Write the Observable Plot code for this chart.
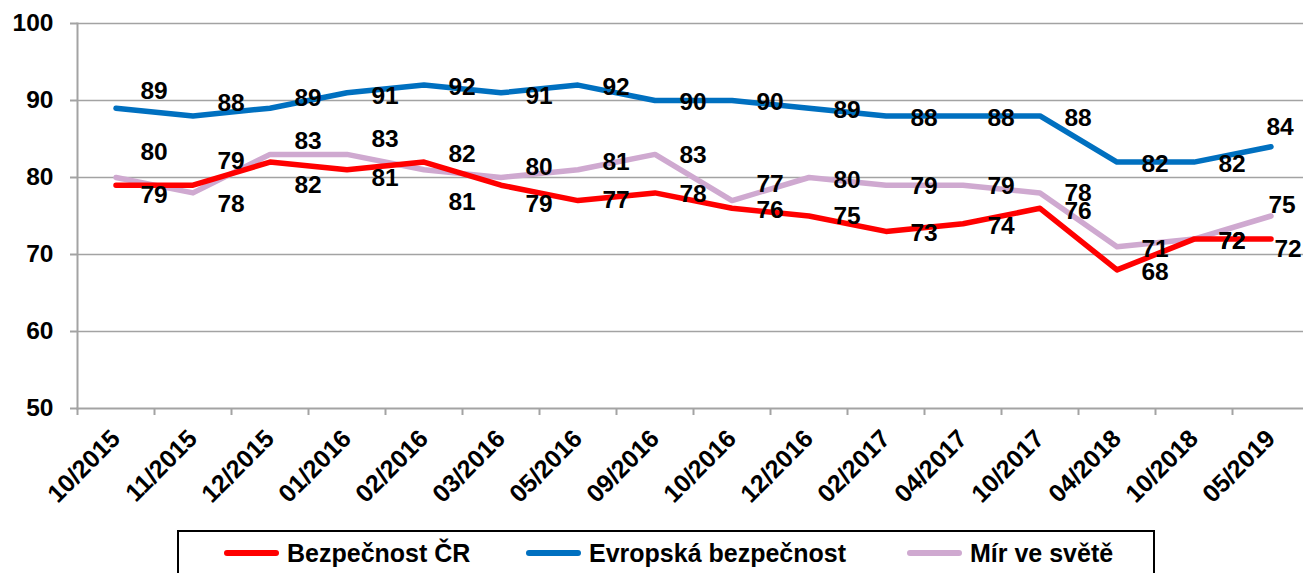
<!DOCTYPE html>
<html><head><meta charset="utf-8">
<script src="https://cdn.jsdelivr.net/npm/d3@7"></script>
<script src="https://cdn.jsdelivr.net/npm/@observablehq/plot@0.6"></script>
<style>
body{margin:0;background:#fff;font-family:"Liberation Sans",Arial,sans-serif;}
#wrap{position:relative;width:1303px;height:573px;overflow:hidden;}
#legend{position:absolute;left:177px;top:530px;width:978px;height:60px;border:2px solid #000;box-sizing:border-box;}
.item{position:absolute;top:7px;height:28px;display:flex;align-items:center;font-weight:bold;font-size:25px;color:#000;white-space:nowrap;}
.sw{display:inline-block;width:55px;height:6px;border-radius:3px;margin-right:8px;}
</style></head><body>
<div id="wrap"><div id="chart"></div><div id="legend"></div></div>
<script>
// ---- data ----
const categories = ["10/2015","11/2015","12/2015","01/2016","02/2016","03/2016","05/2016","09/2016",
  "10/2016","12/2016","02/2017","04/2017","10/2017","04/2018","10/2018","05/2019"];
const seriesNames = ["Bezpečnost ČR","Evropská bezpečnost","Mír ve světě"];
const bezpecnostCR       = [79,79,82,81,82,79,77,78,76,75,73,74,76,68,72,72];
const evropskaBezpecnost = [89,88,89,91,92,91,92,90,90,89,88,88,88,82,82,84];
const mirVeSvete         = [80,78,83,83,81,80,81,83,77,80,79,79,78,71,72,75];
const yTicks = [50,60,70,80,90,100];

// ---- styling / layout ----
const seriesColors = ["#ff0000","#0070c0","#cfa9d0"];
const labelDy = {
  "Bezpečnost ČR":       [10,-24,23,8,-8,19,0,1,2,0,2,2,3,2,2,10],
  "Evropská bezpečnost": [-17,-13,-10,3,2,3,2,2,2,2,2,2,2,2,2,-20],
  "Mír ve světě":        [-25,11,-13,-15,32,-10,-8,1,-16,3,1,1,0,2,2,-11]
};
const labelDxLast = {"Bezpečnost ČR":17,"Evropská bezpečnost":9,"Mír ve světě":11};

const seriesValues = [bezpecnostCR, evropskaBezpecnost, mirVeSvete];
const rows = seriesNames.flatMap((s, si) => seriesValues[si].map((v, i) => ({series: s, cat: categories[i], value: v, i})));

const grey = "#a3a3a3";
const font = {fontSize: 24.5, fontWeight: "bold", fill: "#000"};

const labelMarks = seriesNames.flatMap(s => rows.filter(r => r.series === s).map(r =>
  Plot.text([r], {x: "cat", y: "value", text: d => String(d.value),
    dx: r.i === categories.length - 1 ? labelDxLast[s] : 38, dy: labelDy[s][r.i], ...font})));

const drawOrder = ["Mír ve světě","Bezpečnost ČR","Evropská bezpečnost"];

const chart = Plot.plot({
  width: 1303, height: 528,
  marginLeft: 77, marginRight: -6, marginTop: 23, marginBottom: 120,
  style: {fontFamily: "'Liberation Sans', Arial, sans-serif", background: "#fff", overflow: "visible"},
  x: {type: "band", domain: categories, padding: 0, label: null},
  y: {domain: [50, 100], label: null},
  color: {domain: seriesNames, range: seriesColors},
  marks: [
    Plot.gridY(yTicks.slice(1), {stroke: grey, strokeOpacity: 1, strokeWidth: 1.5}),
    Plot.frame({anchor: "left", stroke: grey, strokeWidth: 2}),
    Plot.frame({anchor: "bottom", stroke: grey, strokeWidth: 2}),
    Plot.axisY(yTicks, {label: null, tickSize: 7, tickPadding: 17, stroke: grey, strokeWidth: 2, ...font}),
    Plot.axisX({label: null, tickSize: 7, tickFormat: () => "", dx: -38.5, stroke: grey, strokeWidth: 2}),
    Plot.axisX({label: null, tickSize: 0, tickPadding: 26, tickRotate: -45, ...font, fontSize: 25}),
    ...drawOrder.map(s => Plot.line(rows.filter(r => r.series === s),
      {x: "cat", y: "value", stroke: "series", strokeWidth: 5.5, strokeLinejoin: "round", strokeLinecap: "round"})),
    ...labelMarks
  ]
});
document.getElementById("chart").appendChild(chart);

// legend
const legend = document.getElementById("legend");
const legendLeft = [45, 347, 728];
seriesNames.forEach((s, i) => {
  const it = document.createElement("div");
  it.className = "item";
  it.style.left = legendLeft[i] + "px";
  it.innerHTML = `<span class="sw" style="background:${seriesColors[i]}"></span><span>${s}</span>`;
  legend.appendChild(it);
});
</script></body></html>
